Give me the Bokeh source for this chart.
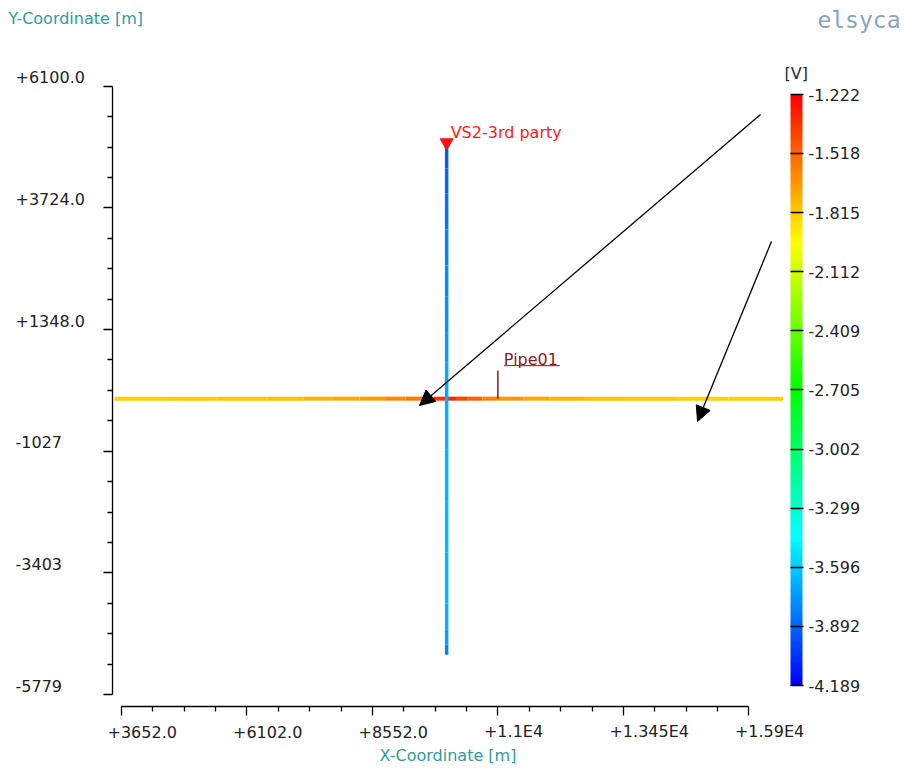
import colorsys
from bokeh.plotting import figure
from bokeh.layouts import column, row
from bokeh.models import (LinearAxis, FixedTicker, Label, Arrow, NormalHead, ColorBar,
                          LinearColorMapper, Range1d, ColumnDataSource, AllLabels)
from bokeh.embed import file_html
from bokeh.resources import INLINE

FONT = "DejaVu Sans"

# ---------------- data ----------------
x_ticks = [3652.0, 6102.0, 8552.0, 11002.0, 13452.0, 15902.0]
x_tick_labels = ["+3652.0", "+6102.0", "+8552.0", "+1.1E4", "+1.345E4", "+1.59E4"]
y_ticks = [6100.0, 3724.2, 1348.4, -1027.4, -3403.2, -5779.0]
y_tick_labels = ["+6100.0", "+3724.0", "+1348.0", "-1027", "-3403", "-5779"]
cb_ticks = [-1.222, -1.518, -1.815, -2.112, -2.409, -2.705, -3.002, -3.299, -3.596, -3.892, -4.189]
cb_tick_labels = ["-1.222", "-1.518", "-1.815", "-2.112", "-2.409", "-2.705",
                  "-3.002", "-3.299", "-3.596", "-3.892", "-4.189"]
V_MIN, V_MAX = -4.189, -1.222

# Pipe01 (horizontal, y = 0): positions along x and potential [V]
pipe01_y = 0.0
pipe01_x = [3480, 4500, 5500, 6500, 7200, 7800, 8300, 8800, 9200, 9500, 9750, 10000,
            10200, 10400, 10700, 11000, 11500, 12000, 12700, 13500, 14500, 15500, 16570]
pipe01_v = [-1.83, -1.82, -1.81, -1.80, -1.77, -1.74, -1.70, -1.65, -1.60, -1.54, -1.42, -1.31,
            -1.36, -1.46, -1.56, -1.63, -1.69, -1.73, -1.77, -1.80, -1.82, -1.83, -1.83]

# VS2-3rd party (vertical, x = 10000): positions along y and potential [V]
vs2_x = 10000.0
vs2_y = [5000, 4500, 4000, 3300, 2600, 2000, 1300, 700, 0, -1000, -2000, -3000,
         -4000, -4500, -4800, -5000]
vs2_v = [-3.93, -3.90, -3.87, -3.82, -3.79, -3.77, -3.73, -3.70, -3.67, -3.65, -3.64, -3.64,
         -3.65, -3.67, -3.75, -3.85]

# label anchors
pipe01_label_x = 11000.0
pipe01_tick_top = 550.0

# annotation arrows (data units)
arrow_x_start = [16128, 16342]
arrow_y_start = [5547, 3068]
arrow_x_end = [9470, 14898]
arrow_y_end = [-134, -446]

# ---------------- layout (page pixels) ----------------
PAGE_W, PAGE_H = 904, 771
PPM = 0.05122                 # pixels per metre (both axes)
HEADER_H = 40                 # header strip
FOOTER_H = 51                 # strip with x tick labels and x title
LEFT_W = 114                  # strip with y axis and y tick labels
MAIN_BORDER_B = 14            # room for x axis ticks
X0_PX, Y0_PX = 121.0, 85.7    # page position of first x tick / first y tick


def px_x(px):
    return x_ticks[0] + (px - X0_PX) / PPM


def py_y(py):
    return y_ticks[0] - (py - Y0_PX) / PPM


MID_H = PAGE_H - HEADER_H - FOOTER_H
FRAME_BOTTOM_PX = HEADER_H + MID_H - MAIN_BORDER_B
X_START, X_END = px_x(LEFT_W), px_x(PAGE_W)
Y_START, Y_END = py_y(FRAME_BOTTOM_PX), py_y(HEADER_H)
y_range = Range1d(Y_START, Y_END)


def bare(fig):
    fig.outline_line_color = None
    fig.background_fill_color = "white"
    fig.border_fill_color = "white"
    return fig


def minors(ticks):
    out = []
    for a, b in zip(ticks[:-1], ticks[1:]):
        out += [a + (b - a) * k / 4 for k in (1, 2, 3)]
    return out


def style_axis(axis, ticks, bounds, tick_in):
    axis.ticker = FixedTicker(ticks=ticks, minor_ticks=minors(ticks))
    axis.bounds = bounds
    axis.axis_line_color = "black"
    axis.axis_line_width = 1.3
    axis.major_tick_line_color = "black"
    axis.major_tick_line_width = 1.3
    axis.minor_tick_line_color = "black"
    axis.minor_tick_line_width = 1.3
    if tick_in:
        axis.major_tick_in, axis.major_tick_out = 9, 0
        axis.minor_tick_in, axis.minor_tick_out = 5, 0
    else:
        axis.major_tick_in, axis.major_tick_out = 0, 9
        axis.minor_tick_in, axis.minor_tick_out = 0, 5
    axis.major_label_standoff = 0
    axis.major_label_text_font_size = "1px"
    axis.major_label_text_color = None


def tlabel(**kw):
    base = dict(text_font=FONT, text_font_size="16px", text_color="#222222",
                text_align="left", text_baseline="middle")
    base.update(kw)
    return Label(**base)


TEAL = "#2e9c9c"

# ---------------- header ----------------
header = bare(figure(width=PAGE_W, height=HEADER_H, output_backend="svg", toolbar_location=None,
                     x_axis_type=None, y_axis_type=None,
                     x_range=Range1d(0, PAGE_W), y_range=Range1d(HEADER_H, 0),
                     min_border=0))
header.add_layout(tlabel(x=8, y=18, text="Y-Coordinate [m]", text_color=TEAL))
header.add_layout(tlabel(x=900, y=19, text="elsyca", text_color="#8aa3c8",
                         text_font="DejaVu Sans Mono", text_font_size="23px",
                         text_align="right"))

# ---------------- left strip: y axis + labels ----------------
left = bare(figure(width=LEFT_W, height=MID_H, output_backend="svg", toolbar_location=None,
                   x_axis_type=None, y_axis_type=None,
                   x_range=Range1d(0, LEFT_W - 2), y_range=y_range,
                   min_border_left=0, min_border_right=2, min_border_top=0,
                   min_border_bottom=MAIN_BORDER_B))
yaxis = LinearAxis()
style_axis(yaxis, y_ticks, (y_ticks[-1], y_ticks[0]), tick_in=True)
left.add_layout(yaxis, "right")
for t, s in zip(y_ticks, y_tick_labels):
    left.add_layout(tlabel(x=15, y=t, y_offset=9, text=s))

# ---------------- main plot ----------------
p = bare(figure(width=PAGE_W - LEFT_W, height=MID_H, output_backend="svg",
                toolbar_location=None, x_axis_type=None, y_axis_type=None,
                x_range=Range1d(X_START, X_END), y_range=y_range,
                min_border_left=0, min_border_right=0, min_border_top=0,
                min_border_bottom=MAIN_BORDER_B))
xaxis = LinearAxis()
style_axis(xaxis, x_ticks, (x_ticks[0], x_ticks[-1]), tick_in=False)
p.add_layout(xaxis, "below")

palette = []
for i in range(256):
    t = i / 255.0
    h = (1 - t) * 240.0 / 360.0
    r, g, b = colorsys.hsv_to_rgb(h, 1, 1)
    palette.append("#%02x%02x%02x" % (round(r * 255), round(g * 255), round(b * 255)))
mapper = LinearColorMapper(palette=palette, low=V_MIN, high=V_MAX)

n1 = len(pipe01_x) - 1
src_h = ColumnDataSource(dict(
    x0=pipe01_x[:-1], x1=pipe01_x[1:], y0=[pipe01_y] * n1, y1=[pipe01_y] * n1,
    v=[(a + b) / 2 for a, b in zip(pipe01_v[:-1], pipe01_v[1:])]))
p.segment(x0="x0", y0="y0", x1="x1", y1="y1", source=src_h, line_width=4,
          line_color={"field": "v", "transform": mapper})

n2 = len(vs2_y) - 1
src_v = ColumnDataSource(dict(
    x0=[vs2_x] * n2, x1=[vs2_x] * n2, y0=vs2_y[:-1], y1=vs2_y[1:],
    v=[(a + b) / 2 for a, b in zip(vs2_v[:-1], vs2_v[1:])]))
p.segment(x0="x0", y0="y0", x1="x1", y1="y1", source=src_v, line_width=3.5,
          line_color={"field": "v", "transform": mapper})

# Pipe01 label tick + underlined name
DARK_RED = "#8b1a1a"
p.segment(x0=[pipe01_label_x], y0=[pipe01_y], x1=[pipe01_label_x], y1=[pipe01_tick_top],
          line_color=DARK_RED, line_width=1.5)
ul_y = pipe01_y + 33 / PPM
p.segment(x0=[pipe01_label_x + 6 / PPM], y0=[ul_y], x1=[pipe01_label_x + 62 / PPM],
          y1=[ul_y], line_color=DARK_RED, line_width=1)
p.add_layout(tlabel(x=pipe01_label_x, y=pipe01_y, x_offset=6, y_offset=39, text="Pipe01",
                    text_color=DARK_RED, text_baseline="alphabetic"))

# VS2 marker + label
p.scatter(x=[vs2_x], y=[vs2_y[0]], marker="inverted_triangle", size=13,
          fill_color="#ff1010", line_color="#ff1010")
p.add_layout(tlabel(x=vs2_x, y=vs2_y[0], x_offset=4, y_offset=10, text="VS2-3rd party",
                    text_color="#ff1a1a", text_baseline="alphabetic"))

# arrows
for xs, ys, xe, ye in zip(arrow_x_start, arrow_y_start, arrow_x_end, arrow_y_end):
    p.add_layout(Arrow(x_start=xs, y_start=ys, x_end=xe, y_end=ye, line_color="black",
                       line_width=1.3,
                       end=NormalHead(size=15, fill_color="black", line_color="black")))

# colour bar (inside the frame, right part)
cb = ColorBar(color_mapper=mapper, location=(790 - LEFT_W, FRAME_BOTTOM_PX - 685),
              width=12, height=591, padding=0,
              ticker=FixedTicker(ticks=cb_ticks),
              major_label_overrides={t: s for t, s in zip(cb_ticks, cb_tick_labels)},
              major_label_policy=AllLabels(),
              major_label_text_font=FONT, major_label_text_font_size="16px",
              major_label_text_color="#222222", label_standoff=5,
              major_tick_line_color="black", major_tick_in=12, major_tick_out=1,
              major_tick_line_width=1.3, minor_tick_line_color=None,
              bar_line_color=None, border_line_color=None, background_fill_color=None)
p.add_layout(cb)
p.add_layout(tlabel(x=px_x(784), y=py_y(73), text="[V]", text_color="#2a2a3a"))

# ---------------- footer: x tick labels + title ----------------
footer = bare(figure(width=PAGE_W, height=FOOTER_H, output_backend="svg", toolbar_location=None,
                     x_axis_type=None, y_axis_type=None,
                     x_range=Range1d(px_x(0), px_x(PAGE_W)),
                     y_range=Range1d(PAGE_H, PAGE_H - FOOTER_H), min_border=0))
for t, s in zip(x_ticks, x_tick_labels):
    footer.add_layout(tlabel(x=t, y=731, x_offset=-14, text=s))
footer.add_layout(tlabel(x=px_x(447.5), y=755, text="X-Coordinate [m]", text_color=TEAL,
                         text_align="center"))

layout = column(header, row(left, p, spacing=0), footer, spacing=0)
open("out.html", "w").write(file_html(layout, INLINE))
